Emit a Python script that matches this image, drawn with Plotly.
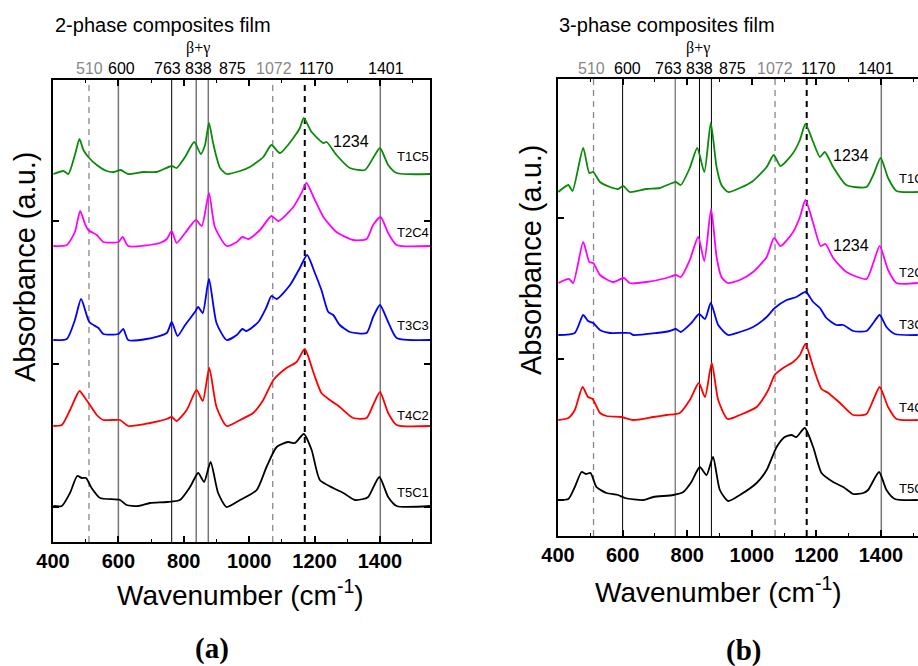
import plotly.graph_objects as go

# ---------------- data (panel a: 2-phase) ----------------
wn_a_T1C5 = [401,432,447,467,481,493,508,534,564,585,607,630,676,717,763,778,804,832,852,865,877,889,900,911,931,972,1002,1043,1068,1094,1135,1155,1167,1191,1227,1237,1267,1308,1354,1379,1400,1425,1451,1553]
ab_a_T1C5 = [333,336,333,352,368,357,350,342,336,335,337,333,335,335,341,339,350,365,353,362,384,365,350,339,333,336,340,350,362,354,369,379,389,375,364,365,352,339,337,349,359,342,334,333]

wn_a_T2C4 = [401,442,467,483,498,508,534,554,600,613,630,727,748,763,778,804,837,855,877,895,931,962,979,997,1033,1068,1089,1135,1160,1175,1201,1227,1267,1318,1359,1379,1402,1425,1451,1553]
ab_a_T2C4 = [261,262,275,296,283,277,272,265,265,270,261,264,268,276,264,274,287,281,314,280,261,265,270,268,277,291,286,300,314,324,307,290,275,267,268,282,290,274,262,261]

wn_a_T3C3 = [401,442,467,486,511,539,554,600,615,630,686,748,763,781,804,834,844,858,877,900,931,962,979,992,1028,1053,1068,1084,1125,1155,1177,1201,1221,1242,1257,1277,1308,1359,1379,1400,1425,1451,1553]
ab_a_T3C3 = [167,168,187,208,185,179,173,173,178,167,168,174,185,171,182,195,200,194,228,184,167,172,178,176,185,200,211,208,222,239,252,234,217,195,192,182,175,174,190,202,185,169,167]

wn_a_T4C2 = [401,427,452,481,498,513,534,554,605,630,697,748,763,778,809,839,858,878,900,931,972,1012,1043,1074,1114,1145,1170,1196,1221,1247,1277,1318,1359,1379,1400,1425,1451,1553]
ab_a_T4C2 = [81,82,97,116,109,102,92,87,87,81,84,88,90,86,97,117,106,139,100,81,87,94,107,127,139,145,158,135,114,107,100,89,89,102,115,94,82,81]

wn_a_T5C1 = [401,427,452,474,488,501,518,544,605,625,661,697,748,788,819,844,862,882,905,931,972,1023,1053,1084,1119,1140,1167,1191,1216,1257,1288,1323,1349,1364,1398,1425,1451,1553]
ab_a_T5C1 = [1,1,14,31,29,29,19,9,7,2,1,4,5,7,20,34,25,45,14,0,7,17,40,60,65,64,73,57,27,19,14,7,8,10,30,10,1,1]

# ---------------- data (panel b: 3-phase) ----------------
wn_b_T1C5 = [401,432,445,478,497,509,530,561,586,602,622,674,715,746,765,780,808,831,853,873,891,906,927,963,1004,1046,1068,1089,1128,1149,1166,1190,1211,1226,1252,1293,1355,1376,1399,1422,1448,1514]
ab_b_T1C5 = [308,315,309,352,327,328,318,313,311,314,308,311,312,316,318,315,332,352,328,377,333,315,308,312,319,333,345,334,347,360,376,358,343,348,333,315,313,325,342,322,309,308]

wn_b_T2C4 = [401,434,447,478,497,509,530,571,604,622,674,736,765,780,808,834,853,874,891,906,925,963,1004,1046,1069,1089,1128,1149,1166,1190,1213,1228,1252,1293,1355,1376,1396,1422,1448,1514]
ab_b_T2C4 = [217,221,217,258,238,237,225,218,222,217,218,222,225,223,240,263,239,291,243,223,217,220,228,243,262,254,268,283,300,277,254,256,242,228,221,237,254,230,217,217]

wn_b_T3C3 = [401,452,478,493,509,530,561,622,633,705,746,765,780,813,837,855,873,896,927,963,1004,1046,1071,1108,1138,1167,1190,1211,1231,1262,1283,1314,1355,1376,1396,1417,1443,1514]
ab_b_T3C3 = [165,167,185,179,177,170,167,167,165,167,169,171,168,177,186,181,197,175,165,168,173,183,192,200,203,208,198,192,182,175,175,169,169,177,185,173,166,165]

wn_b_T4C2 = [401,432,452,476,493,507,530,550,597,633,695,736,777,808,836,855,876,896,925,963,1015,1051,1071,1097,1128,1149,1166,1190,1216,1237,1273,1314,1355,1376,1396,1422,1448,1514]
ab_b_T4C2 = [80,82,90,113,103,101,87,84,83,80,83,85,87,100,117,103,137,100,81,85,93,110,125,132,138,145,156,133,111,107,97,85,86,100,113,93,81,80]

wn_b_T5C1 = [401,432,452,473,486,501,519,550,586,607,664,695,757,788,813,839,860,880,901,927,963,1015,1046,1077,1102,1123,1138,1164,1190,1216,1252,1283,1314,1345,1360,1394,1417,1443,1514]
ab_b_T5C1 = [0,1,13,28,26,27,13,7,5,2,0,3,5,8,18,33,25,43,10,-1,5,17,30,53,63,65,63,72,53,27,18,13,6,7,10,28,10,1,0]

sample_names = ["T1C5", "T2C4", "T3C3", "T4C2", "T5C1"]
colors = ["#0a8a0a", "#ff00ff", "#0000ff", "#ff0000", "#000000"]
label_y_a = [350, 274, 182, 92, 15]
label_y_b = [322, 228, 176, 93, 12]

peak_lines = [510, 600, 763, 838, 875, 1072, 1170, 1401]
peak_text = ["510", "600", "763", "838", "875", "1072", "1170", "1401"]
peak_text_x_a = [513, 611, 749, 846, 950, 1076, 1207, 1418]
peak_text_x_b = [505, 614, 741, 837, 939, 1072, 1205, 1385]
peak_text_col = ["#888888", "black", "black", "black", "black", "#888888", "black", "black"]
# line styles per panel: (color, width, dash)
style_a = [("#888888",1.3,"6px,5px"),("#777777",1.5,"solid"),("#000000",1,"solid"),("#777777",1.5,"solid"),
           ("#777777",1.5,"solid"),("#888888",1.3,"6px,5px"),("#000000",2,"6px,5px"),("#777777",1.5,"solid")]
style_b = [("#888888",1.3,"6px,5px"),("#000000",1,"solid"),("#777777",1.3,"solid"),("#000000",1,"solid"),
           ("#000000",1,"solid"),("#888888",1.3,"6px,5px"),("#000000",2,"6px,5px"),("#777777",1.5,"solid")]

W, H = 918, 666
fig = go.Figure()

series_a = [(wn_a_T1C5, ab_a_T1C5), (wn_a_T2C4, ab_a_T2C4), (wn_a_T3C3, ab_a_T3C3), (wn_a_T4C2, ab_a_T4C2), (wn_a_T5C1, ab_a_T5C1)]
series_b = [(wn_b_T1C5, ab_b_T1C5), (wn_b_T2C4, ab_b_T2C4), (wn_b_T3C3, ab_b_T3C3), (wn_b_T4C2, ab_b_T4C2), (wn_b_T5C1, ab_b_T5C1)]

for (xs, ys), c, n in zip(series_a, colors, sample_names):
    fig.add_trace(go.Scatter(x=xs, y=ys, mode="lines", name=n, showlegend=False,
                             line=dict(color=c, width=1.8, shape="spline", smoothing=0.6),
                             xaxis="x", yaxis="y"))
for (xs, ys), c, n in zip(series_b, colors, sample_names):
    fig.add_trace(go.Scatter(x=xs, y=ys, mode="lines", name=n, showlegend=False,
                             line=dict(color=c, width=1.8, shape="spline", smoothing=0.6),
                             xaxis="x2", yaxis="y2"))

shapes = []
for v, (c, w, d) in zip(peak_lines, style_a):
    shapes.append(dict(type="line", xref="x", yref="y domain", x0=v, x1=v, y0=0, y1=1,
                       line=dict(color=c, width=w, dash=d), layer="below"))
for v, (c, w, d) in zip(peak_lines, style_b):
    shapes.append(dict(type="line", xref="x2", yref="y2 domain", x0=v, x1=v, y0=0, y1=1,
                       line=dict(color=c, width=w, dash=d), layer="below"))

ann = []
def paper(px, py):
    return px / W, 1 - py / H

SANS = "Liberation Sans, Arial, sans-serif"
SERIF = "Liberation Serif, Times New Roman, serif"

for t, xa, xb, c in zip(peak_text, peak_text_x_a, peak_text_x_b, peak_text_col):
    ann.append(dict(text=t, x=xa, xref="x", y=1 - 68 / H, yref="paper", showarrow=False,
                    xanchor="center", yanchor="middle", font=dict(family=SANS, size=16, color=c)))
    ann.append(dict(text=t, x=xb, xref="x2", y=1 - 68 / H, yref="paper", showarrow=False,
                    xanchor="center", yanchor="middle", font=dict(family=SANS, size=16, color=c)))
ann.append(dict(text="β+γ", x=843, xref="x", y=1 - 48 / H, yref="paper", showarrow=False,
                xanchor="center", yanchor="middle", font=dict(family=SERIF, size=16, color="black")))
ann.append(dict(text="β+γ", x=833, xref="x2", y=1 - 48 / H, yref="paper", showarrow=False,
                xanchor="center", yanchor="middle", font=dict(family=SERIF, size=16, color="black")))

for n, ya, yb in zip(sample_names, label_y_a, label_y_b):
    ann.append(dict(text=n, x=1446, xref="x", y=ya, yref="y", showarrow=False,
                    xanchor="left", yanchor="middle", font=dict(family=SANS, size=13, color="black")))
    ann.append(dict(text=n, x=1450, xref="x2", y=yb, yref="y2", showarrow=False,
                    xanchor="left", yanchor="middle", font=dict(family=SANS, size=13, color="black")))

ann.append(dict(text="1234", x=1311, xref="x", y=365, yref="y", showarrow=False,
                font=dict(family=SANS, size=16, color="black")))
ann.append(dict(text="1234", x=1307, xref="x2", y=345, yref="y2", showarrow=False,
                font=dict(family=SANS, size=16, color="black")))
ann.append(dict(text="1234", x=1307, xref="x2", y=255, yref="y2", showarrow=False,
                font=dict(family=SANS, size=16, color="black")))

x0, y0 = paper(53, 25)
ann.append(dict(text="2-phase composites film", x=x0, y=y0, xref="paper", yref="paper", showarrow=False,
                xanchor="left", yanchor="middle", font=dict(family=SANS, size=20, color="black")))
x0, y0 = paper(557, 25)
ann.append(dict(text="3-phase composites film", x=x0, y=y0, xref="paper", yref="paper", showarrow=False,
                xanchor="left", yanchor="middle", font=dict(family=SANS, size=20, color="black")))

for (px, py) in [(25, 267), (531, 260)]:
    xx, yy = paper(px, py)
    ann.append(dict(text="Absorbance (a.u.)", x=xx, y=yy, xref="paper", yref="paper", showarrow=False,
                    textangle=-90, xanchor="center", yanchor="middle",
                    font=dict(family=SANS, size=29, color="black")))
for (px, py) in [(241, 593), (718, 590)]:
    xx, yy = paper(px, py)
    ann.append(dict(text="Wavenumber (cm<sup>-1</sup>)", x=xx, y=yy, xref="paper", yref="paper", showarrow=False,
                    xanchor="center", yanchor="middle", font=dict(family=SANS, size=28, color="black")))
for t, (px, py) in [("(a)", (212, 648)), ("(b)", (743, 650))]:
    xx, yy = paper(px, py)
    ann.append(dict(text="<b>" + t + "</b>", x=xx, y=yy, xref="paper", yref="paper", showarrow=False,
                    xanchor="center", yanchor="middle", font=dict(family=SERIF, size=29, color="black")))

xcommon = dict(showgrid=False, zeroline=False, showline=True, linecolor="black", linewidth=2,
               ticks="inside", ticklen=6, tickwidth=1.5, tickcolor="black", dtick=200, tick0=400,
               automargin=False,
               tickfont=dict(family=SANS, size=20, color="black", weight="bold"),
               minor=dict(ticks="inside", ticklen=3, tickwidth=1.2, tickcolor="black", dtick=100, tick0=400))
ycommon = dict(showgrid=False, zeroline=False, showline=True, linecolor="black", linewidth=2,
               automargin=False,
               ticks="inside", ticklen=6, tickwidth=1.5, tickcolor="black", showticklabels=False)

fig.update_layout(
    width=W, height=H, autosize=False,
    margin=dict(l=0, r=0, t=0, b=0, pad=0),
    paper_bgcolor="white", plot_bgcolor="white",
    showlegend=False,
    xaxis=dict(domain=[53 / W, 430 / W], range=[400, 1553], mirror="ticks", anchor="y", **xcommon),
    yaxis=dict(domain=[1 - 542 / H, 1 - 80 / H], range=[-35, 427], mirror="ticks", anchor="x",
               tickvals=[0, 143, 286], **ycommon),
    xaxis2=dict(domain=[558 / W, 1.0], range=[400, 1514.6], mirror="ticks", anchor="y2", **xcommon),
    yaxis2=dict(domain=[1 - 536 / H, 1 - 79 / H], range=[-36, 421], mirror=False, anchor="x2",
                tickvals=[0, 141, 282], **ycommon),
    shapes=shapes,
    annotations=ann,
)

fig.write_html("out.html")
